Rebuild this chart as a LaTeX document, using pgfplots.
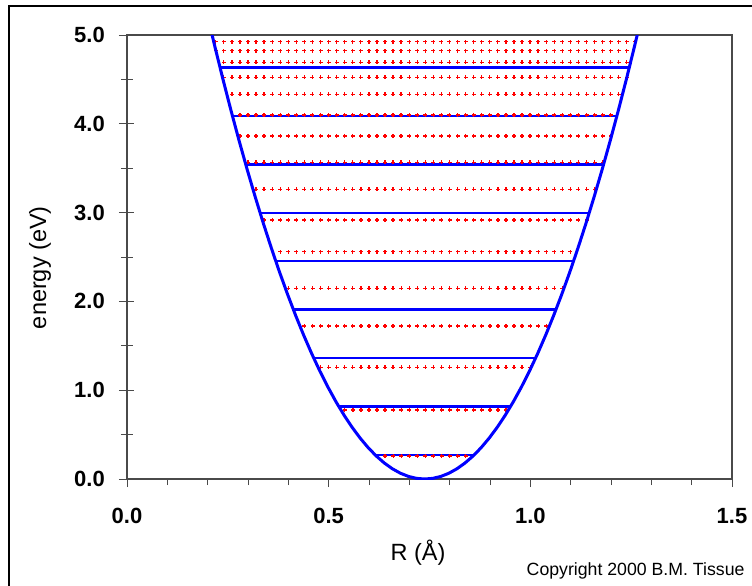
\documentclass[border=0pt]{standalone}
\usepackage{fontspec}
\setmainfont{Liberation Sans}
\usepackage{pgfplots}
\pgfplotsset{compat=1.18}
\usetikzlibrary{decorations.markings}
\definecolor{axgray}{HTML}{4A4A4A}
\tikzset{plusrow/.style={draw=none, postaction={decorate},
  decoration={markings, mark=between positions 0 and 1 step 8.06pt with
  {\fill[red] (-2pt,-0.65pt) rectangle (2pt,0.65pt);
   \fill[red] (-0.65pt,-2pt) rectangle (0.65pt,2pt);}}}}
\begin{document}
\begin{tikzpicture}
\useasboundingbox (0,0) rectangle (752pt,-586pt);
\draw[black, line width=1.5pt] (9pt,-590pt) -- (9pt,-6pt) -- (760pt,-6pt);
\begin{axis}[
 at={(127pt,-479pt)}, anchor=south west,
 scale only axis, width=605pt, height=444pt,
 xmin=0, xmax=1.5, ymin=0, ymax=5,
 axis line style={axgray, line width=1.3pt},
 tick style={axgray, line width=1pt},
 tick align=outside, tick pos=left,
 major tick length=8pt, minor tick length=6pt,
 xtick={0,0.5,1,1.5}, xticklabels={0.0,0.5,1.0,1.5},
 ytick={0,1,2,3,4,5}, yticklabels={0.0,1.0,2.0,3.0,4.0,5.0},
 minor x tick num=4, minor y tick num=1,
 xticklabel style={font=\bfseries\fontsize{22}{26}\selectfont, inner sep=0pt, yshift=-21pt},
 yticklabel style={font=\bfseries\fontsize{22}{26}\selectfont, inner sep=0pt, xshift=-14pt},
 xlabel={R (Å)}, ylabel={energy (eV)},
 every axis x label/.style={at={(axis description cs:0.481,-0.1667)}, anchor=center, font=\fontsize{23.5}{28}\selectfont},
 every axis y label/.style={at={(axis description cs:-0.1438,0.476)}, anchor=center, rotate=90, font=\fontsize{23.5}{28}\selectfont},
]
% vibrational levels (blue)
\addplot[blue, line width=2.3pt] coordinates {(0.615,0.2725) (0.861,0.2725)};
\addplot[blue, line width=2.3pt] coordinates {(0.525,0.8175) (0.951,0.8175)};
\addplot[blue, line width=2.3pt] coordinates {(0.463,1.3625) (1.013,1.3625)};
\addplot[blue, line width=2.3pt] coordinates {(0.4125,1.9075) (1.0635,1.9075)};
\addplot[blue, line width=2.3pt] coordinates {(0.369,2.4525) (1.107,2.4525)};
\addplot[blue, line width=2.3pt] coordinates {(0.330,2.9975) (1.146,2.9975)};
\addplot[blue, line width=2.3pt] coordinates {(0.294,3.5425) (1.182,3.5425)};
\addplot[blue, line width=2.3pt] coordinates {(0.2615,4.0875) (1.2145,4.0875)};
\addplot[blue, line width=2.3pt] coordinates {(0.2307,4.6325) (1.2453,4.6325)};
% anharmonic levels (red dotted)
\addplot[plusrow] coordinates {(0.22,4.925) (1.26,4.925)};
\addplot[plusrow] coordinates {(0.22,4.823) (1.24,4.823)};
\addplot[plusrow] coordinates {(0.24,4.693) (1.24,4.693)};
\addplot[plusrow] coordinates {(0.24,4.524) (1.24,4.524)};
\addplot[plusrow] coordinates {(0.26,4.332) (1.22,4.332)};
\addplot[plusrow] coordinates {(0.28,4.099) (1.20,4.099)};
\addplot[plusrow] coordinates {(0.28,3.863) (1.20,3.863)};
\addplot[plusrow] coordinates {(0.30,3.566) (1.18,3.566)};
\addplot[plusrow] coordinates {(0.32,3.262) (1.16,3.262)};
\addplot[plusrow] coordinates {(0.34,2.917) (1.14,2.917)};
\addplot[plusrow] coordinates {(0.38,2.560) (1.10,2.560)};
\addplot[plusrow] coordinates {(0.40,2.148) (1.08,2.148)};
\addplot[plusrow] coordinates {(0.44,1.723) (1.04,1.723)};
\addplot[plusrow] coordinates {(0.48,1.258) (1.00,1.258)};
\addplot[plusrow] coordinates {(0.54,0.777) (0.94,0.777)};
\addplot[plusrow] coordinates {(0.64,0.259) (0.84,0.259)};
% potential curve
\addplot[blue, line width=3pt, line join=round] coordinates {
(0.198,5.2488) (0.218,4.8672) (0.238,4.5) (0.258,4.1472) (0.278,3.8088) (0.298,3.4848)
(0.318,3.1752) (0.338,2.88) (0.358,2.5992) (0.378,2.3328) (0.398,2.0808) (0.418,1.8432)
(0.438,1.62) (0.458,1.4112) (0.478,1.2168) (0.498,1.0368) (0.518,0.8712) (0.538,0.72)
(0.558,0.5832) (0.578,0.4608) (0.598,0.3528) (0.618,0.2592) (0.638,0.18) (0.658,0.1152)
(0.678,0.0648) (0.698,0.0288) (0.718,0.0072) (0.738,0) (0.758,0.0072) (0.778,0.0288)
(0.798,0.0648) (0.818,0.1152) (0.838,0.18) (0.858,0.2592) (0.878,0.3528) (0.898,0.4608)
(0.918,0.5832) (0.938,0.72) (0.958,0.8712) (0.978,1.0368) (0.998,1.2168) (1.018,1.4112)
(1.038,1.62) (1.058,1.8432) (1.078,2.0808) (1.098,2.3328) (1.118,2.5992) (1.138,2.88)
(1.158,3.1752) (1.178,3.4848) (1.198,3.8088) (1.218,4.1472) (1.238,4.5) (1.258,4.8672)
(1.278,5.2488)};
\end{axis}
% inner halves of the y ticks (ticks cross the axis)
\begin{axis}[
 at={(127pt,-479pt)}, anchor=south west,
 scale only axis, width=605pt, height=444pt,
 xmin=0, xmax=1.5, ymin=0, ymax=5,
 axis line style={draw=none},
 xtick=\empty, ytick={0,1,2,3,4,5}, yticklabels={}, minor y tick num=1,
 tick align=inside, tick pos=left,
 major tick length=7pt, minor tick length=5.5pt,
 tick style={axgray, line width=1pt},
]
\end{axis}
\node[anchor=base east, font=\fontsize{17.7}{21}\selectfont] at (748pt,-575pt) {Copyright 2000 B.M. Tissue};
\end{tikzpicture}
\end{document}
